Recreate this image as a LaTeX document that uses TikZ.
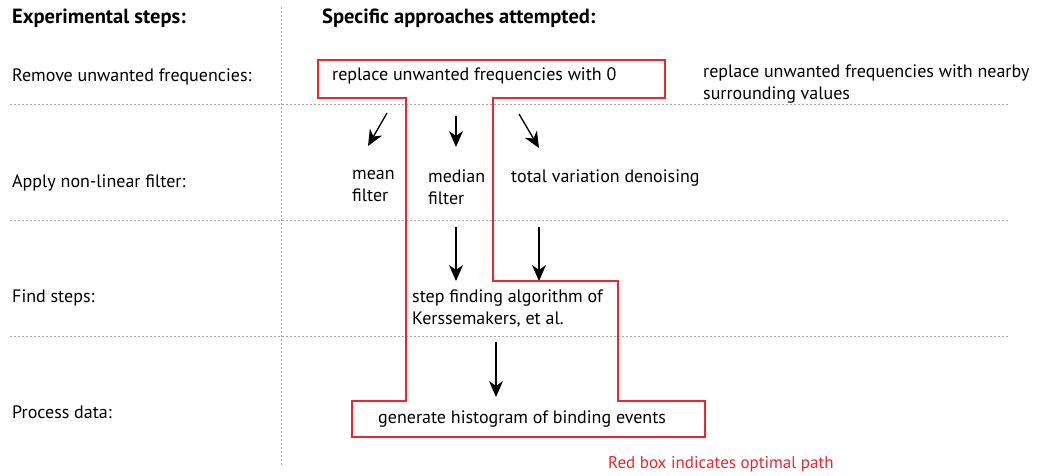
\documentclass[tikz,border=0pt]{standalone}
\usepackage{fontspec}
\setmainfont{PT Sans}
\usetikzlibrary{arrows.meta}
\definecolor{pathred}{RGB}{234,38,48}
\definecolor{guide}{RGB}{165,165,165}
\begin{document}
\begin{tikzpicture}[x=1pt,y=-1pt,
  txt/.style={anchor=base west,inner sep=0pt,font=\fontsize{18}{22}\selectfont},
  head/.style={anchor=base west,inner sep=0pt,font=\fontsize{20.5}{24}\selectfont\bfseries},
  note/.style={anchor=base west,inner sep=0pt,font=\fontsize{17}{21}\selectfont},
  guideline/.style={guide,line width=0.8pt,dash pattern=on 2pt off 2pt},
  flow/.style={line width=1.3pt,-{Stealth[length=16pt,width=14pt,inset=5pt]}},
  optimal/.style={pathred,line width=1.4pt,line join=miter}]
\useasboundingbox (0,0) rectangle (1037,475);

% grid of dotted separators
\draw[guideline] (281,7) -- (281,467);
\draw[guideline] (10,104) -- (1008,104);
\draw[guideline] (10,220) -- (1008,220);
\draw[guideline] (10,336) -- (1008,336);

% column headings
\node[head] (hsteps) at (12,23) {Experimental steps:};
\node[head] (happr) at (322,23) {Specific approaches attempted:};

% experimental steps
\node[txt] (s1) at (12,81) {Remove unwanted frequencies:};
\node[txt] (s2) at (12,187) {Apply non-linear filter:};
\node[txt] (s3) at (12,302) {Find steps:};
\node[txt] (s4) at (12,418) {Process data:};

% approaches
\node[txt] (zero) at (332,80) {replace unwanted frequencies with 0};
\node[txt,align=left,anchor=north west] (near) at (703,65) {replace unwanted frequencies with nearby\\surrounding values};
\node[txt,align=left,anchor=north west] (mean) at (352,170) {mean\\filter};
\node[txt,align=left,anchor=north west] (median) at (428,170) {median\\filter};
\node[txt] (tvd) at (511,182) {total variation denoising};
\node[txt,align=left,anchor=north west] (kers) at (412,290) {step finding algorithm of\\Kerssemakers, et al.};
\node[txt] (hist) at (378,423) {generate histogram of binding events};

% arrows between stages
\coordinate (a1s) at (387,113); \coordinate (a1e) at (368,146);
\coordinate (a2s) at (456,116); \coordinate (a2e) at (456,147);
\coordinate (a3s) at (519,114); \coordinate (a3e) at (539,148);
\coordinate (b1s) at (456,227); \coordinate (b1e) at (456,281);
\coordinate (b2s) at (539,227); \coordinate (b2e) at (539,281);
\coordinate (c1s) at (496,342); \coordinate (c1e) at (496,397);
\draw[flow] (a1s) -- (a1e);
\draw[flow] (a2s) -- (a2e);
\draw[flow] (a3s) -- (a3e);
\draw[flow] (b1s) -- (b1e);
\draw[flow] (b2s) -- (b2e);
\draw[flow] (c1s) -- (c1e);

% outline of the optimal path
\draw[optimal] (318,60) -- (665,60) -- (665,98) -- (493,98) -- (493,281)
  -- (618,281) -- (618,401) -- (705,401) -- (705,437) -- (352,437)
  -- (352,401) -- (406,401) -- (406,98) -- (318,98) -- cycle;

\node[note,text=pathred] (legend) at (608,468) {Red box indicates optimal path};
\end{tikzpicture}
\end{document}
